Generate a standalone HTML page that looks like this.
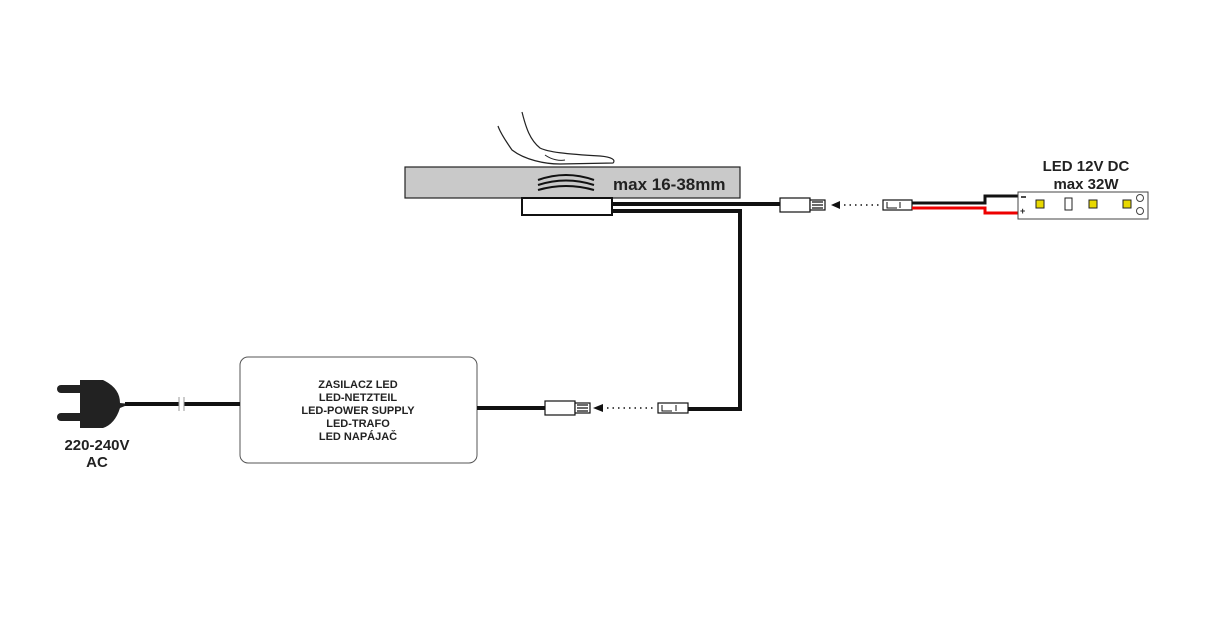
<!DOCTYPE html>
<html><head><meta charset="utf-8"><style>
html,body{margin:0;padding:0;background:#fff;}
svg{display:block;}
text{font-family:"Liberation Sans",Arial,sans-serif;font-weight:bold;fill:#222;}
</style></head><body>
<svg width="1224" height="617" viewBox="0 0 1224 617" xmlns="http://www.w3.org/2000/svg">
<!-- hand -->
<path d="M522 112 C526 128 530 140 540 148 C548 152 565 154 600 156 C612 157 616 160 613 163 L560 164 C545 164 525 160 512 150 C505 140 500 132 498 126" fill="#fff" stroke="#222" stroke-width="1.2"/>
<path d="M545 155 C552 160 560 161 565 160" fill="none" stroke="#222" stroke-width="1"/>
<!-- bar -->
<rect x="405" y="167" width="335" height="31" fill="#c9c9c9" stroke="#222" stroke-width="1.2"/>
<path d="M538 180 Q566 170 594 180 M538 185 Q566 176 594 185 M538 190 Q566 182 594 190" fill="none" stroke="#111" stroke-width="2"/>
<text x="613" y="190" font-size="17">max 16-38mm</text>
<rect x="522" y="198" width="90" height="17" fill="#fff" stroke="#111" stroke-width="2"/>
<!-- wires -->
<path d="M612 204 H780" stroke="#111" stroke-width="4" fill="none"/>
<path d="M612 211 H740 V409 H688" stroke="#111" stroke-width="4" fill="none"/>
<!-- top connectors -->
<rect x="780" y="198" width="30" height="14" fill="#fff" stroke="#111" stroke-width="1.2"/>
<rect x="810" y="200" width="15" height="10" fill="#fff" stroke="#111" stroke-width="1.2"/>
<path d="M812 202 H823 M812 205 H823 M812 208 H823" stroke="#111" stroke-width="1.2"/>
<polygon points="831,205 840,201 840,209" fill="#111"/>
<path d="M844 205 H880" stroke="#111" stroke-width="1.5" stroke-dasharray="1.5,4"/>
<rect x="883" y="200" width="29" height="10" fill="#fff" stroke="#111" stroke-width="1.2"/>
<path d="M887 202 V208 H897 M900 202 V208" stroke="#111" stroke-width="1" fill="none"/>
<path d="M912 203 H985 V196 H1018" stroke="#111" stroke-width="3" fill="none"/>
<path d="M912 208 H985 V213 H1018" stroke="#e00" stroke-width="3" fill="none"/>
<!-- LED strip -->
<text x="1086" y="171" font-size="15" text-anchor="middle">LED 12V DC</text>
<text x="1086" y="189" font-size="15" text-anchor="middle">max 32W</text>
<rect x="1018" y="192" width="130" height="27" fill="#fff" stroke="#444" stroke-width="1"/>
<path d="M1021 197 H1026" stroke="#111" stroke-width="1.5"/>
<text x="1020" y="214" font-size="9" font-weight="normal">+</text>
<rect x="1036" y="200" width="8" height="8" fill="#e8d800" stroke="#222"/>
<rect x="1065" y="198" width="7" height="12" fill="#fff" stroke="#222"/>
<rect x="1089" y="200" width="8" height="8" fill="#e8d800" stroke="#222"/>
<rect x="1123" y="200" width="8" height="8" fill="#e8d800" stroke="#222"/>
<circle cx="1140" cy="198" r="3.5" fill="#fff" stroke="#444"/>
<circle cx="1140" cy="211" r="3.5" fill="#fff" stroke="#444"/>
<!-- power supply -->
<rect x="240" y="357" width="237" height="106" rx="8" fill="#fff" stroke="#555" stroke-width="1"/>
<g font-size="11" text-anchor="middle">
<text x="358" y="388">ZASILACZ LED</text>
<text x="358" y="401">LED-NETZTEIL</text>
<text x="358" y="414">LED-POWER SUPPLY</text>
<text x="358" y="427">LED-TRAFO</text>
<text x="358" y="440">LED NAPÁJAČ</text>
</g>
<path d="M477 408 H545" stroke="#111" stroke-width="4"/>
<rect x="545" y="401" width="30" height="14" fill="#fff" stroke="#111" stroke-width="1.2"/>
<rect x="575" y="403" width="15" height="10" fill="#fff" stroke="#111" stroke-width="1.2"/>
<path d="M577 405 H588 M577 408 H588 M577 411 H588" stroke="#111" stroke-width="1.2"/>
<polygon points="593,408 603,404 603,412" fill="#111"/>
<path d="M607 408 H656" stroke="#111" stroke-width="1.5" stroke-dasharray="1.5,4"/>
<rect x="658" y="403" width="30" height="10" fill="#fff" stroke="#111" stroke-width="1.2"/>
<path d="M662 405 V411 H672 M676 405 V411" stroke="#111" stroke-width="1" fill="none"/>
<!-- plug -->
<rect x="57" y="385" width="28" height="8" rx="4" fill="#222"/>
<rect x="57" y="413" width="28" height="8" rx="4" fill="#222"/>
<path d="M80 380 H103 Q120 388 120 403 L130 404 L120 408 Q115 424 103 428 H80 Z" fill="#222"/>
<path d="M125 404 H179 M184 404 H240" stroke="#111" stroke-width="4"/>
<path d="M179 397 V411 M184 397 V411" stroke="#999" stroke-width="1"/>
<text x="97" y="450" font-size="15" text-anchor="middle">220-240V</text>
<text x="97" y="467" font-size="15" text-anchor="middle">AC</text>
</svg>
</body></html>
